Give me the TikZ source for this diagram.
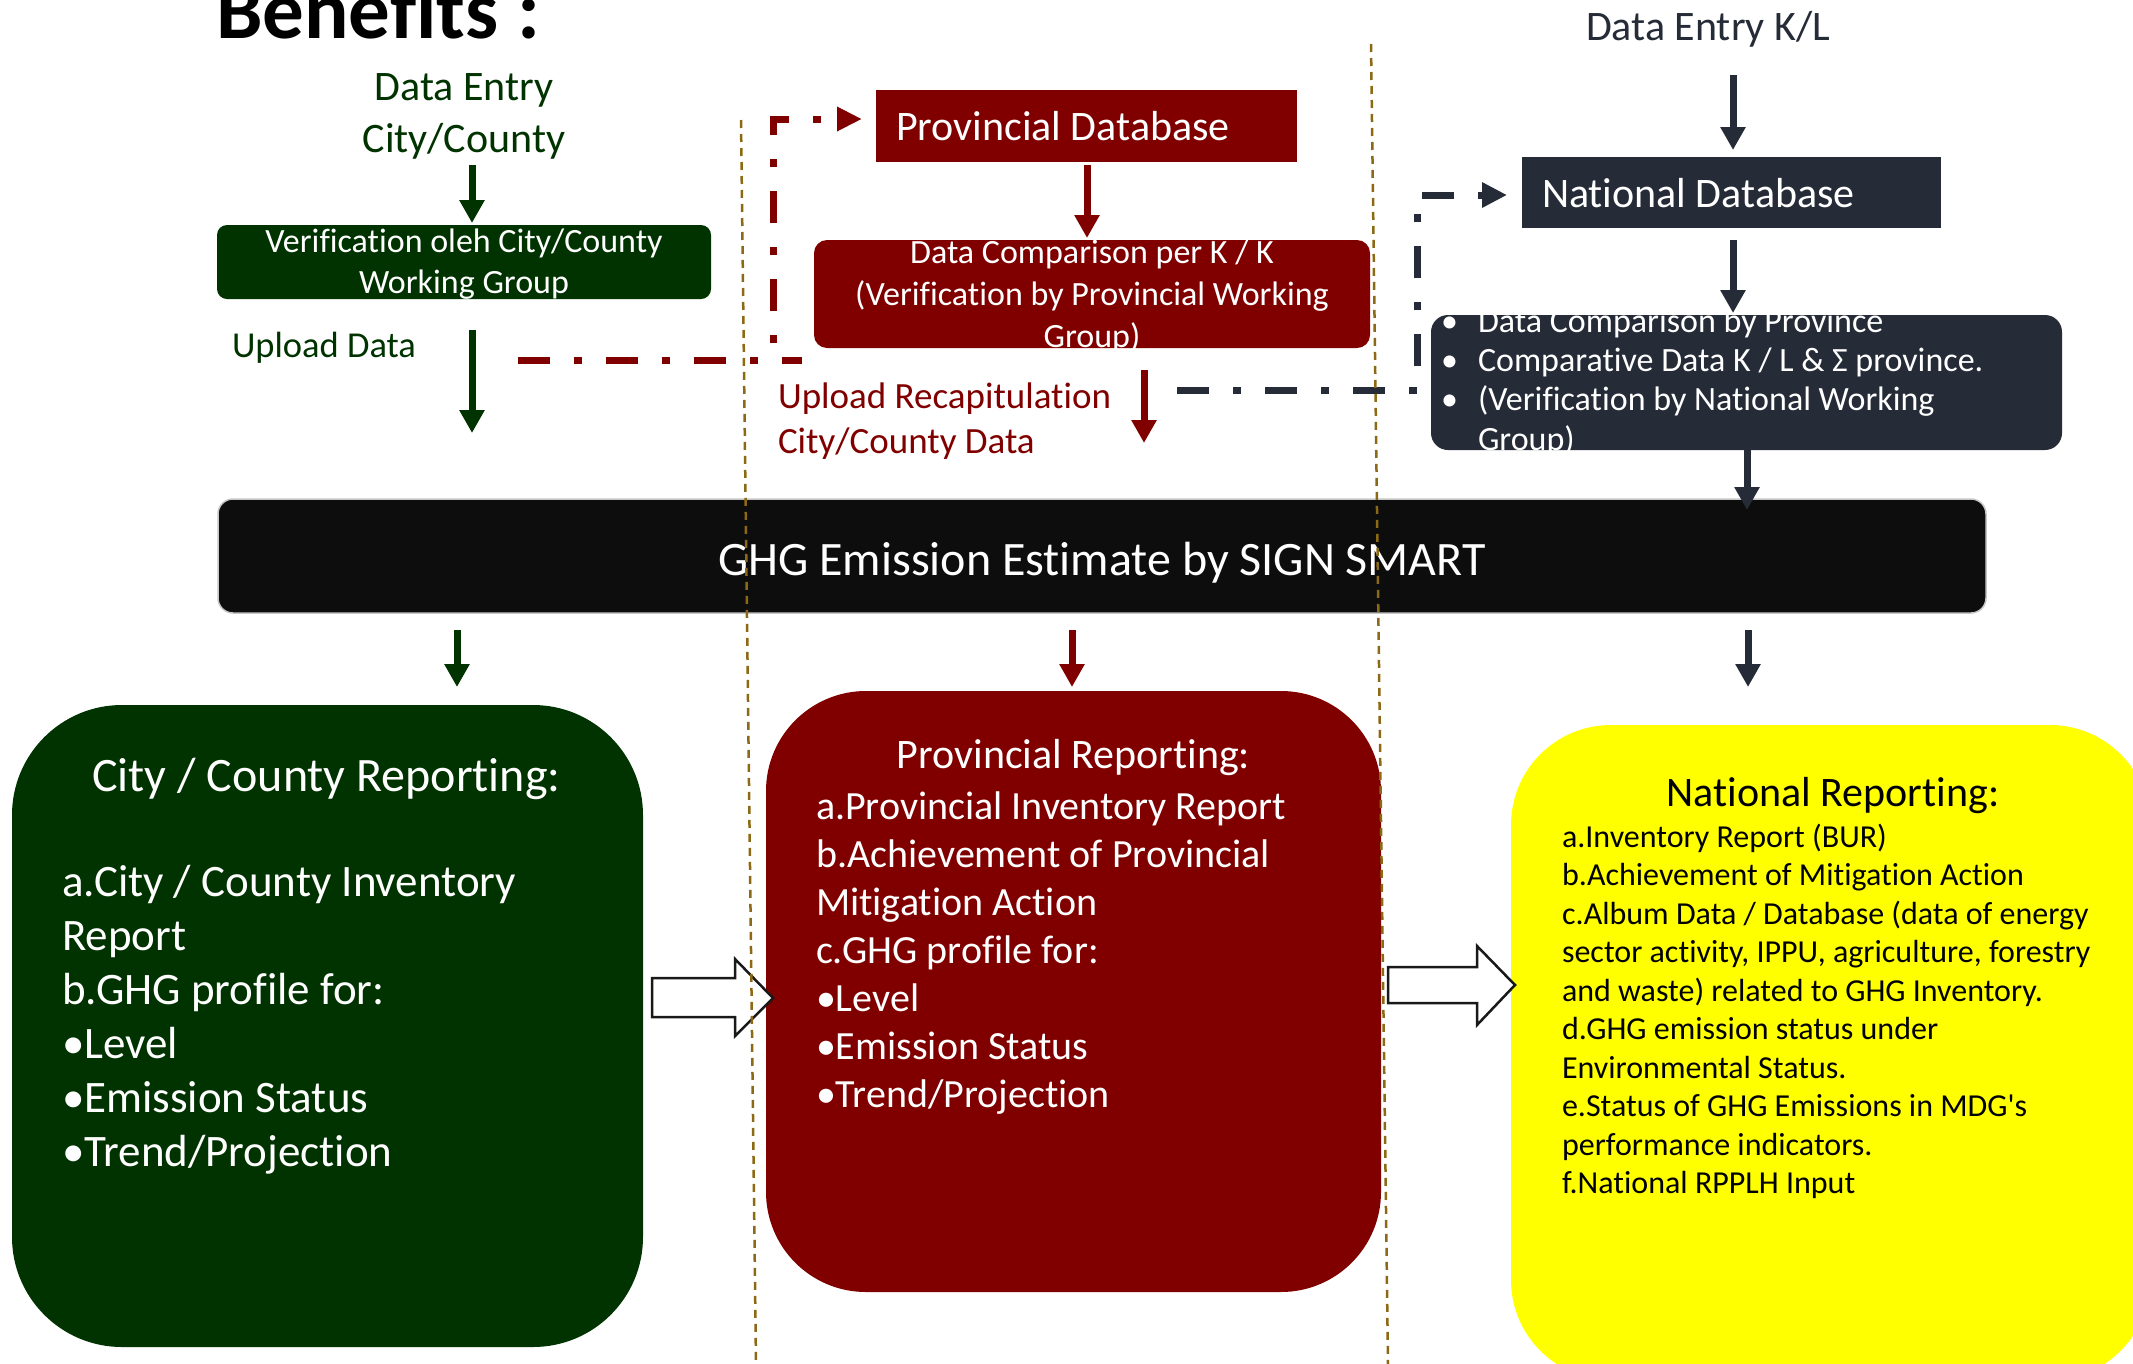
\documentclass[tikz,border=0pt]{standalone}
\usepackage{fontspec}
\setmainfont{Carlito}[Ligatures={TeX,NoCommon}]
\usetikzlibrary{arrows.meta}
\definecolor{cgreen}{HTML}{003300}
\definecolor{cred}{HTML}{800000}
\definecolor{cnavy}{RGB}{37,43,55}
\definecolor{cblack}{HTML}{0D0D0D}
\definecolor{cyellow}{HTML}{FFFF00}
\definecolor{csep}{RGB}{140,105,20}
\tikzset{
  box/.style={inner sep=0pt, outer sep=0pt, anchor=center},
  txt/.style={inner sep=0pt, outer sep=0pt},
  arr/.style={line width=7pt, -{Triangle[width=24pt,length=23pt]}},
  ddash/.style={line width=7pt, dash pattern=on 32pt off 24pt on 8pt off 24pt},
  hollow/.style={draw=black!90, fill=white, line width=2.5pt, line join=miter},
  sepline/.style={draw=csep, line width=2.5pt, dash pattern=on 8pt off 6pt}
}
\begin{document}
\begin{tikzpicture}[x=1pt,y=-1pt]
\useasboundingbox (0,0) rectangle (2133,1363);
\clip (0,0) rectangle (2133,1363);

% ---------- title ----------
\node[txt, anchor=base west, font=\fontsize{83}{90}\selectfont\bfseries] (title) at (216,38) {Benefits :};

% ---------- city / county column ----------
\node[txt, anchor=base, align=center, text=cgreen, font=\fontsize{42}{52}\selectfont] (entrycc) at (464,152) {Data Entry\\City/County};
\node[box, fill=cgreen, rounded corners=10pt, minimum width=494pt, minimum height=74pt] (verif) at (464,262) {};
\node[txt, anchor=base, align=center, text=white, font=\fontsize{34}{41}\selectfont] (veriftxt) at (464,293) {Verification oleh City/County\\Working Group};
\node[txt, anchor=base west, text=cgreen, font=\fontsize{36.5}{44}\selectfont] (upload) at (232,357) {Upload Data};

% ---------- provincial column ----------
\node[box, fill=cred, minimum width=421pt, minimum height=72pt] (provdb) at (1086.5,126) {};
\node[txt, anchor=base west, text=white, font=\fontsize{42}{50}\selectfont] (provdbtxt) at (896,140) {Provincial Database};
\node[box, fill=cred, rounded corners=13pt, minimum width=556pt, minimum height=108pt] (provcmp) at (1092,294) {};
\node[txt, anchor=base, align=center, text=white, font=\fontsize{34}{42}\selectfont] (provcmptxt) at (1092,347) {Data Comparison per K / K\\(Verification by Provincial Working\\Group)};
\node[txt, anchor=base west, align=left, text=cred, font=\fontsize{37}{45}\selectfont] (recap) at (778,453) {Upload Recapitulation\\City/County Data};

% ---------- national column ----------
\node[txt, anchor=base west, text=cnavy, font=\fontsize{42}{50}\selectfont] (entrykl) at (1586,40) {Data Entry K/L};
\node[box, fill=cnavy, minimum width=419pt, minimum height=71pt] (natdb) at (1731.5,192.5) {};
\node[txt, anchor=base west, text=white, font=\fontsize{42}{50}\selectfont] (natdbtxt) at (1542,207) {National Database};
\node[box, fill=cnavy, rounded corners=17pt, minimum width=631pt, minimum height=135pt] (natcmp) at (1746.5,382.5) {};
\node[txt, anchor=base west, align=left, text=white, font=\fontsize{34}{39.3}\selectfont] (natcmptxt) at (1478,450) {Data Comparison by Province\\Comparative Data K / L \& Σ province.\\(Verification by National Working\\Group)};
\node[txt, anchor=base west, align=left, text=white, font=\fontsize{34}{39.3}\selectfont] (natbul) at (1441,410.6) {•\\•\\•};

% ---------- GHG bar ----------
\node[box, fill=cblack, draw=gray!45, line width=1.5pt, rounded corners=15pt, minimum width=1768pt, minimum height=114pt] (ghg) at (1102,556) {};
\node[txt, anchor=base, text=white, font=\fontsize{48}{56}\selectfont] (ghgtxt) at (1102,575) {GHG Emission Estimate by SIGN SMART};

% ---------- reporting boxes ----------
\node[box, fill=cgreen, rounded corners=110pt, minimum width=631pt, minimum height=642pt] (ccrep) at (327.5,1026) {};
\node[txt, anchor=base, text=white, font=\fontsize{48}{58}\selectfont] (cctitle) at (326.5,791) {City / County Reporting:};
\node[txt, anchor=base west, align=left, text=white, font=\fontsize{45}{54}\selectfont] (ccbody) at (62,1166) {a.City / County Inventory\\Report\\b.GHG profile for:\\•Level\\•Emission Status\\•Trend/Projection};

\node[box, fill=cred, rounded corners=100pt, minimum width=615pt, minimum height=601pt] (provrep) at (1073.5,991.5) {};
\node[txt, anchor=base, text=white, font=\fontsize{42}{50}\selectfont] (provtitle) at (1073.5,768) {Provincial Reporting:};
\node[txt, anchor=base west, align=left, text=white, font=\fontsize{40}{48}\selectfont] (provbody) at (816,1107) {a.Provincial Inventory Report\\b.Achievement of Provincial\\Mitigation Action\\c.GHG profile for:\\•Level\\•Emission Status\\•Trend/Projection};

\node[box, fill=cyellow, rounded corners=100pt, minimum width=639pt, minimum height=655pt] (natrep) at (1830.5,1052.5) {};
\node[txt, anchor=base, text=black, font=\fontsize{42}{50}\selectfont] (nattitle) at (1833,806) {National Reporting:};
\node[txt, anchor=base west, align=left, text=black, font=\fontsize{32}{38.5}\selectfont] (natbody) at (1562,1193.5) {a.Inventory Report (BUR)\\b.Achievement of Mitigation Action\\c.Album Data / Database (data of energy\\sector activity, IPPU, agriculture, forestry\\and waste) related to GHG Inventory.\\d.GHG emission status under\\Environmental Status.\\e.Status of GHG Emissions in MDG\textquotesingle s\\performance indicators.\\f.National RPPLH Input};

% ---------- connector end points ----------
\coordinate (g1a) at (472,165);   \coordinate (g1b) at (472,223);
\coordinate (g2a) at (472,330);   \coordinate (g2b) at (472,433);
\coordinate (r1a) at (1087,165);  \coordinate (r1b) at (1087,238);
\coordinate (r2a) at (1144,370);  \coordinate (r2b) at (1144,443);
\coordinate (n1a) at (1733,75);   \coordinate (n1b) at (1733,150);
\coordinate (n2a) at (1733,240);  \coordinate (n2b) at (1733,313);
\coordinate (n3a) at (1747,450);  \coordinate (n3b) at (1747,510);
\coordinate (bga) at (457,630);   \coordinate (bgb) at (457,687);
\coordinate (bra) at (1072,630);  \coordinate (brb) at (1072,687);
\coordinate (bna) at (1748,630);  \coordinate (bnb) at (1748,687);
\coordinate (rd1) at (518,360);   \coordinate (rd2) at (802,360);
\coordinate (rd3) at (773,360);   \coordinate (rd4) at (773,119);
\coordinate (rd5) at (862,119);
\coordinate (nd1) at (1177,390);  \coordinate (nd2) at (1417,390);
\coordinate (nd3) at (1417,195);  \coordinate (nd4) at (1507,195);

% ---------- solid arrows ----------
\draw[arr, cgreen] (g1a) -- (g1b);
\draw[arr, cgreen] (g2a) -- (g2b);
\draw[arr, cred] (r1a) -- (r1b);
\draw[arr, cred] (r2a) -- (r2b);
\draw[arr, cnavy] (n1a) -- (n1b);
\draw[arr, cnavy] (n2a) -- (n2b);
\draw[arr, cnavy] (n3a) -- (n3b);
\draw[arr, cgreen] (bga) -- (bgb);
\draw[arr, cred] (bra) -- (brb);
\draw[arr, cnavy] (bna) -- (bnb);

% ---------- dash-dot connectors ----------
\draw[ddash, cred] (rd1) -- (rd2);
\draw[ddash, cred, dash phase=39pt, -{Triangle[width=23pt,length=25pt]}] (rd3) -- (rd4) -- (rd5);
\draw[ddash, cnavy, -{Triangle[width=24pt,length=25pt]}] (nd1) -- (nd2) -- (nd3) -- (nd4);

% ---------- hollow block arrows ----------
\draw[hollow] (652,978) -- (735,978) -- (735,959) -- (773,998) -- (735,1036) -- (735,1017) -- (652,1017) -- cycle;
\draw[hollow] (1388,967) -- (1477,967) -- (1477,946) -- (1515,985) -- (1477,1025) -- (1477,1003) -- (1388,1003) -- cycle;

% ---------- column separators ----------
\draw[sepline] (741,120) -- (756,1365);
\draw[sepline] (1371,44) -- (1388,1365);
\end{tikzpicture}
\end{document}
